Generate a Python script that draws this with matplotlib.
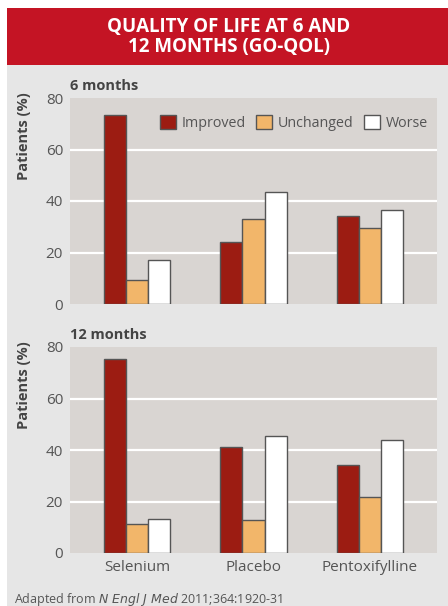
import matplotlib
matplotlib.use("Agg")
import matplotlib.pyplot as plt
from matplotlib.patches import Rectangle
import numpy as np

categories = ["Selenium", "Placebo", "Pentoxifylline"]
series = ["Improved", "Unchanged", "Worse"]
months6 = {"Improved": [73.5, 24.0, 34.0],
           "Unchanged": [9.5, 33.0, 29.5],
           "Worse": [17.0, 43.5, 36.5]}
months12 = {"Improved": [75.5, 41.2, 34.0],
            "Unchanged": [11.2, 12.9, 21.8],
            "Worse": [13.2, 45.5, 43.8]}
yticks = [0, 20, 40, 60, 80]
title = "QUALITY OF LIFE AT 6 AND\n12 MONTHS (GO-QOL)"
panel_titles = ["6 months", "12 months"]

colors = {"Improved": "#9c1c12", "Unchanged": "#f2b66a", "Worse": "#ffffff"}
FONT = "Open Sans"
W, H = 448, 606
fig = plt.figure(figsize=(W / 100, H / 100), dpi=100)
fig.patch.set_facecolor("white")

def fx(px):
    return px / W

def fy(py):
    return 1 - py / H

# panel backgrounds
fig.add_artist(Rectangle((fx(7), 0), 1 - fx(7), fy(65), transform=fig.transFigure,
                         facecolor="#e6e6e6", edgecolor="none", zorder=0))
fig.add_artist(Rectangle((fx(7), fy(65)), 1 - fx(7), fy(8) - fy(65), transform=fig.transFigure,
                         facecolor="#c41424", edgecolor="none", zorder=0))
fig.text(fx(229), fy(37), title, ha="center", va="center", color="white",
         fontsize=13.5, fontweight="bold", family=FONT, linespacing=1.0)

def draw(ax, data, ptitle, show_x, legend):
    x = np.arange(len(categories))
    w = 0.19
    for i, s in enumerate(series):
        ax.bar(x + (i - 1) * w, data[s], width=w, color=colors[s], edgecolor="#555555",
               linewidth=1.0, label=s, zorder=3)
    ax.set_facecolor("#d9d5d2")
    ax.set_xlim(-0.575, 2.575)
    ax.set_ylim(0, 80)
    ax.set_yticks(yticks)
    ax.set_yticklabels([str(t) for t in yticks], family=FONT, fontsize=11, color="#555555")
    for t in [20, 40, 60]:
        ax.axhline(t, color="white", linewidth=1.6, zorder=1)
    for sp in ax.spines.values():
        sp.set_visible(False)
    ax.tick_params(axis="both", length=0, pad=5)
    ax.set_xticks(x)
    if show_x:
        ax.set_xticklabels(categories, family=FONT, fontsize=11, color="#555555")
    else:
        ax.set_xticklabels([])
    ax.text(0, 1.025, ptitle, transform=ax.transAxes, ha="left", va="bottom",
            family=FONT, fontweight="bold", fontsize=10.5, color="#444444")
    ax.text(-0.125, 1.03, "Patients (%)", transform=ax.transAxes, rotation=90,
            ha="center", va="top", family=FONT, fontweight="bold", fontsize=10.5,
            color="#444444")
    if legend:
        leg = ax.legend(loc="center right", ncol=3, frameon=False,
                        prop={"family": FONT, "size": 10.3}, handlelength=1.1,
                        handleheight=1.1, columnspacing=0.75, handletextpad=0.4,
                        bbox_to_anchor=(0.975, 0.879), borderaxespad=0, borderpad=0)
        for t in leg.get_texts():
            t.set_color("#555555")

ax1 = fig.add_axes([fx(70), fy(304), fx(437) - fx(70), fy(98) - fy(304)])
draw(ax1, months6, panel_titles[0], False, True)
ax2 = fig.add_axes([fx(70), fy(553), fx(437) - fx(70), fy(347) - fy(553)])
draw(ax2, months12, panel_titles[1], True, False)

fig.text(fx(14), fy(599), "Adapted from $\\it{N\\ Engl\\ J\\ Med}$ 2011;364:1920-31",
         ha="left", va="center", family=FONT, fontsize=9, color="#555555")
fig.savefig("out.png", dpi=100, facecolor=fig.get_facecolor())
